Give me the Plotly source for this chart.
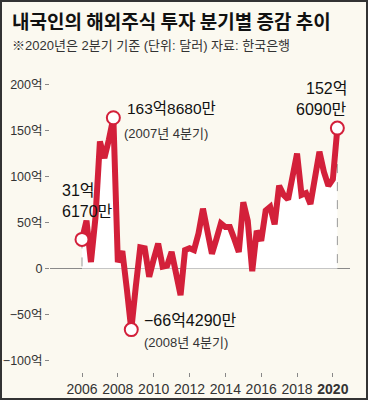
import plotly.graph_objects as go

# ---- data ----
values = [
    31.617, 52, 7, 55,          # 2006
    138, 120, 140, 163.868,     # 2007
    7, 19, -22, -66.429,        # 2008
    -20, 23, 22, -9,            # 2009
    10, 27, 2, 3,               # 2010
    18, -5, -29, 20,            # 2011
    22, 20, 38, 65,             # 2012
    40, 16, 32, 49,             # 2013
    45, 45, 32, 18,             # 2014
    72, 52, -3, 41,             # 2015
    30, 63, 67, 48,             # 2016
    90, 80, 75, 100,            # 2017
    125, 80, 82, 70,            # 2018
    100, 127, 105, 90,          # 2019
    97, 152.609,                # 2020
]
x_q = [2006 + i / 4 for i in range(len(values))]
tick_years = [2006, 2008, 2010, 2012, 2014, 2016, 2018, 2020]
tick_text = ["2006", "2008", "2010", "2012", "2014", "2016", "2018", "<b>2020</b>"]
y_ticks = [200, 150, 100, 50, 0, -50, -100]
y_text = ["200억", "150억", "100억", "50억", "0", "−50억", "−100억"]
hl_idx = [0, 7, 11, len(values) - 1]

RED = "#d3203a"
BG = "#fbf9f0"
FONT = "Liberation Sans, Noto Sans CJK KR"
KFONT = "Noto Sans CJK KR"

W, H = 368, 400
L, R, T, B = 50, 18, 75, 28
PW, PH = W - L - R, H - T - B

def px_x(px):
    return 2006 + (px - 82) / 17.92

def px_y(py):
    return (268.5 - py) / 0.92

# positive part of the series for the white fill (zero crossings inserted)
fx, fy = [], []
for i, v in enumerate(values):
    if i > 0:
        v0 = values[i - 1]
        if (v0 > 0 > v) or (v0 < 0 < v):
            t = v0 / (v0 - v)
            fx.append(x_q[i - 1] + t * (x_q[i] - x_q[i - 1]))
            fy.append(0)
    fx.append(x_q[i])
    fy.append(max(v, 0))

fig = go.Figure()

fig.add_trace(go.Scatter(x=fx, y=fy, mode="lines", fill="tozeroy",
                         fillcolor="white", line=dict(width=0, color="white"),
                         hoverinfo="skip", showlegend=False))
for i in [0, len(values) - 1]:
    fig.add_trace(go.Scatter(x=[x_q[i], x_q[i]], y=[values[i], 0], mode="lines",
                             line=dict(color="#999999", width=1, dash="dash"),
                             hoverinfo="skip", showlegend=False))
fig.add_trace(go.Scatter(x=x_q, y=values, mode="lines",
                         line=dict(color=RED, width=6),
                         showlegend=False))
fig.add_trace(go.Scatter(x=[x_q[i] for i in hl_idx], y=[values[i] for i in hl_idx],
                         mode="markers",
                         marker=dict(size=13, color="white", line=dict(color=RED, width=2)),
                         showlegend=False))

ann = []
def add(text, px, py, size, xanchor="left", color="#111", paper=False, family=FONT):
    if paper:
        xr, yr, x, y = "paper", "paper", (px - L) / PW, (H - B - py) / PH
    else:
        xr, yr, x, y = "x", "y", px_x(px), px_y(py)
    ann.append(dict(text=text, x=x, y=y, xref=xr, yref=yr,
                    xanchor=xanchor, yanchor="middle", showarrow=False,
                    font=dict(size=size, color=color, family=family)))

add("<b>내국인의 해외주식 투자 분기별 증감 추이</b>", 10, 21, 19, paper=True, family=KFONT)
add("※2020년은 2분기 기준 (단위: 달러) 자료: 한국은행", 10, 46, 13, paper=True, color="#333")
add("31억", 60, 190, 16)
add("6170만", 60, 211, 16)
add("163억8680만", 125, 108, 15.5)
add("(2007년 4분기)", 122, 133, 13, color="#333")
add("−66억4290만", 142, 320, 16)
add("(2008년 4분기)", 142, 342, 13, color="#333")
add("152억", 349, 88, 16, xanchor="right")
add("6090만", 349, 109, 16, xanchor="right")

fig.update_layout(
    width=W, height=H,
    margin=dict(l=L, r=R, t=T, b=B),
    paper_bgcolor=BG, plot_bgcolor=BG,
    annotations=ann,
    shapes=[dict(type="rect", xref="paper", yref="paper",
                 x0=(1 - L) / PW, x1=(W - 1 - L) / PW,
                 y0=(-B + 1) / PH, y1=(H - B - 1) / PH,
                 line=dict(color="#333333", width=2), layer="above")],
    xaxis=dict(range=[px_x(L), px_x(W - R)], tickvals=tick_years, ticktext=tick_text,
               showgrid=False, zeroline=False, showline=False, tickangle=0, automargin=False,
               ticks="outside", ticklen=4, tickcolor="#888",
               tickfont=dict(size=14, color="#333", family=FONT)),
    yaxis=dict(range=[px_y(H - B), px_y(T)], tickvals=y_ticks, ticktext=y_text,
               showgrid=False, zeroline=True, zerolinecolor="#8a8a8a", zerolinewidth=1,
               showline=False, automargin=False, ticks="outside", ticklen=4, tickcolor="#888",
               tickfont=dict(size=12.5, color="#333", family=FONT)),
    font=dict(family=FONT),
)

fig.write_html("out.html", config={"displayModeBar": False},
               post_script="document.body.style.margin='0';document.body.style.overflow='hidden';")
